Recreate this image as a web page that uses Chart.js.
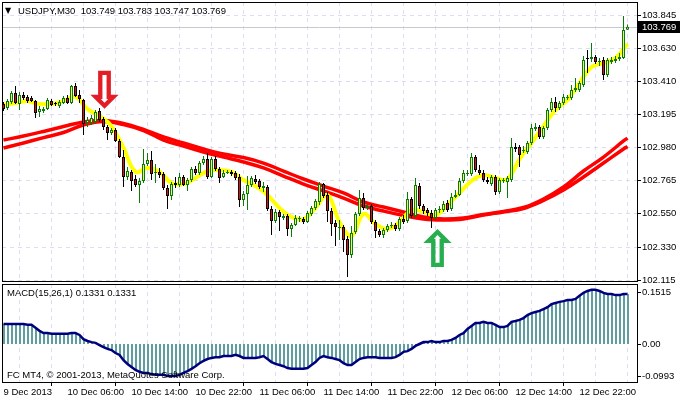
<!DOCTYPE html>
<html>
<head>
<meta charset="utf-8">
<script src="https://cdn.jsdelivr.net/npm/chart.js@4.4.1/dist/chart.umd.min.js"></script>
<style>
  html, body { margin: 0; padding: 0; background: #fff; }
  #wrap { position: relative; width: 680px; height: 400px; }
  #priceBox { position: absolute; left: 0; top: 0; width: 680px; height: 286px; }
  #macdBox { position: absolute; left: 0; top: 282px; width: 680px; height: 118px; }
</style>
</head>
<body>
<div id="wrap">
  <div id="priceBox"><canvas id="priceChart"></canvas></div>
  <div id="macdBox"><canvas id="macdChart"></canvas></div>
</div>
<script>
// USDJPY M30, 157 bars
const tickLabels = ['9 Dec 2013', '10 Dec 06:00', '10 Dec 14:00', '10 Dec 22:00', '11 Dec 06:00',
    '11 Dec 14:00', '11 Dec 22:00', '12 Dec 06:00', '12 Dec 14:00', '12 Dec 22:00'];
const priceTicks = [103.845, 103.630, 103.410, 103.195, 102.980, 102.765, 102.550, 102.330, 102.115];
const macdTicks = [0.1515, 0, -0.0993];

const open = [103.265,103.239,103.278,103.337,103.265,103.324,103.311,103.304,103.284,103.213,
    103.219,103.232,103.284,103.271,103.252,103.271,103.304,103.271,103.382,103.324,
    103.291,103.141,103.141,103.148,103.219,103.167,103.115,103.076,103.095,103.024,
    102.919,102.789,102.822,102.776,102.737,102.763,102.874,102.900,102.815,102.822,
    102.808,102.717,102.665,102.750,102.737,102.789,102.737,102.769,102.841,102.815,
    102.880,102.906,102.789,102.906,102.841,102.789,102.815,102.822,102.815,102.789,
    102.639,102.678,102.737,102.776,102.763,102.717,102.724,102.580,102.502,102.561,
    102.522,102.535,102.450,102.476,102.515,102.515,102.496,102.548,102.587,102.626,
    102.743,102.672,102.567,102.489,102.456,102.463,102.385,102.280,102.430,102.548,
    102.652,102.587,102.600,102.496,102.437,102.411,102.443,102.470,102.476,102.450,
    102.515,102.502,102.646,102.535,102.730,102.600,102.574,102.554,102.522,102.574,
    102.574,102.619,102.580,102.659,102.672,102.763,102.808,102.808,102.919,102.835,
    102.815,102.769,102.743,102.789,102.691,102.763,102.756,102.769,102.985,102.985,
    102.958,102.952,103.011,103.102,103.115,103.050,103.108,103.226,103.278,103.239,
    103.271,103.304,103.304,103.356,103.356,103.389,103.565,103.558,103.571,103.539,
    103.552,103.454,103.539,103.545,103.558,103.565,103.749];
const high = [103.278,103.298,103.350,103.382,103.343,103.343,103.324,103.317,103.291,103.252,
    103.245,103.304,103.298,103.278,103.291,103.317,103.324,103.389,103.402,103.356,
    103.298,103.180,103.193,103.226,103.239,103.180,103.128,103.108,103.108,103.037,
    102.965,102.854,102.835,102.802,102.782,102.972,102.945,102.958,102.874,102.848,
    102.822,102.737,102.756,102.789,102.815,102.802,102.782,102.854,102.861,102.893,
    102.926,102.945,102.919,102.926,102.854,102.835,102.835,102.835,102.828,102.808,
    102.698,102.795,102.795,102.802,102.776,102.756,102.737,102.600,102.580,102.574,
    102.548,102.548,102.489,102.541,102.535,102.528,102.567,102.600,102.646,102.756,
    102.750,102.691,102.587,102.509,102.509,102.476,102.404,102.470,102.561,102.704,
    102.685,102.613,102.613,102.509,102.450,102.456,102.483,102.496,102.489,102.528,
    102.541,102.691,102.659,102.782,102.750,102.613,102.587,102.574,102.587,102.600,
    102.632,102.639,102.685,102.704,102.782,102.835,102.835,102.945,102.932,102.867,
    102.835,102.789,102.802,102.802,102.782,102.782,102.795,103.043,103.011,102.998,
    102.991,103.024,103.135,103.141,103.128,103.121,103.239,103.304,103.311,103.284,
    103.330,103.324,103.389,103.434,103.415,103.578,103.617,103.663,103.584,103.565,
    103.571,103.565,103.571,103.578,103.597,103.839,103.783];
const low = [103.219,103.226,103.265,103.265,103.226,103.291,103.271,103.278,103.174,103.180,
    103.206,103.226,103.252,103.252,103.239,103.265,103.265,103.265,103.311,103.271,
    103.063,103.115,103.128,103.135,103.148,103.095,103.030,103.063,103.017,102.913,
    102.724,102.769,102.698,102.724,102.619,102.750,102.861,102.769,102.750,102.782,
    102.704,102.580,102.639,102.717,102.724,102.730,102.698,102.756,102.802,102.802,
    102.867,102.776,102.782,102.828,102.750,102.782,102.808,102.795,102.769,102.593,
    102.600,102.574,102.724,102.743,102.711,102.691,102.567,102.411,102.489,102.437,
    102.509,102.404,102.398,102.470,102.496,102.483,102.489,102.535,102.574,102.606,
    102.652,102.496,102.404,102.339,102.378,102.300,102.137,102.261,102.417,102.535,
    102.574,102.574,102.483,102.391,102.398,102.391,102.430,102.456,102.437,102.437,
    102.483,102.489,102.522,102.522,102.580,102.548,102.535,102.456,102.509,102.554,
    102.561,102.561,102.567,102.652,102.665,102.750,102.795,102.795,102.822,102.802,
    102.756,102.743,102.730,102.672,102.678,102.750,102.652,102.756,102.952,102.854,
    102.945,102.939,102.998,103.089,103.037,103.037,103.095,103.213,103.213,103.226,
    103.258,103.291,103.291,103.343,103.343,103.376,103.467,103.539,103.526,103.513,
    103.421,103.441,103.526,103.532,103.545,103.558,103.747];
const close = [103.232,103.284,103.337,103.271,103.324,103.304,103.284,103.284,103.206,103.232,
    103.232,103.291,103.258,103.265,103.278,103.304,103.271,103.382,103.317,103.298,
    103.135,103.161,103.174,103.213,103.161,103.115,103.076,103.095,103.024,102.919,
    102.789,102.828,102.763,102.737,102.763,102.874,102.900,102.808,102.822,102.802,
    102.717,102.665,102.743,102.737,102.789,102.737,102.769,102.841,102.815,102.880,
    102.906,102.789,102.906,102.841,102.782,102.815,102.822,102.808,102.782,102.639,
    102.678,102.737,102.782,102.756,102.724,102.730,102.580,102.502,102.561,102.528,
    102.535,102.450,102.476,102.522,102.522,102.496,102.554,102.587,102.632,102.743,
    102.665,102.567,102.483,102.463,102.463,102.378,102.280,102.424,102.548,102.652,
    102.587,102.600,102.496,102.437,102.411,102.443,102.470,102.476,102.450,102.515,
    102.496,102.646,102.535,102.737,102.600,102.567,102.554,102.522,102.574,102.580,
    102.613,102.574,102.659,102.672,102.763,102.815,102.815,102.919,102.835,102.815,
    102.769,102.756,102.789,102.691,102.769,102.769,102.782,102.985,102.972,102.932,
    102.965,103.011,103.108,103.115,103.050,103.108,103.226,103.278,103.239,103.271,
    103.311,103.311,103.356,103.369,103.402,103.552,103.558,103.571,103.539,103.545,
    103.454,103.552,103.552,103.558,103.571,103.747,103.769];

// slow MAs (two red lines), read every 5 bars
const slowIdx = [0,5,10,15,20,25,30,35,40,45,50,55,60,65,70,75,80,85,90,95,100,105,110,115,120,125,130,135,140,145,150,155,156];
const slowUpper = [103.030,103.056,103.086,103.118,103.148,103.157,103.138,103.099,103.050,103.011,
    102.972,102.939,102.916,102.880,102.828,102.776,102.730,102.685,102.626,102.593,
    102.561,102.528,102.515,102.522,102.544,102.564,102.590,102.646,102.724,102.828,
    102.919,103.024,103.043];
const slowLower = [102.978,103.011,103.046,103.079,103.128,103.151,103.131,103.092,103.030,102.991,
    102.952,102.919,102.887,102.848,102.795,102.743,102.698,102.652,102.600,102.567,
    102.538,102.515,102.509,102.515,102.541,102.561,102.584,102.636,102.704,102.789,
    102.880,102.972,102.988];

// fast MA (yellow), read every 3 bars
const fastIdx = [0,3,6,9,12,15,18,21,24,27,30,33,36,39,42,45,48,51,54,57,60,63,66,69,72,75,78,81,84,87,
    90,93,96,99,102,105,108,111,114,117,120,123,126,129,132,135,138,141,144,147,150,153,156];
const fast = [103.258,103.271,103.284,103.265,103.265,103.284,103.311,103.232,103.187,103.121,
    102.978,102.822,102.848,102.822,102.750,102.743,102.782,102.828,102.835,102.822,
    102.769,102.730,102.672,102.587,102.528,102.515,102.587,102.672,102.496,102.404,
    102.548,102.483,102.450,102.496,102.574,102.561,102.541,102.606,102.685,102.763,
    102.802,102.782,102.776,102.906,103.011,103.121,103.226,103.291,103.402,103.506,
    103.532,103.565,103.656];

const macd = [0.053,0.053,0.053,0.053,0.053,0.053,0.051,0.051,0.043,0.035,
    0.029,0.029,0.027,0.027,0.027,0.027,0.027,0.029,0.029,0.024,
    0.013,0.008,0.005,0.003,-0.003,-0.008,-0.013,-0.016,-0.024,-0.029,
    -0.043,-0.053,-0.061,-0.069,-0.074,-0.077,-0.077,-0.080,-0.082,-0.082,
    -0.082,-0.085,-0.085,-0.085,-0.082,-0.077,-0.072,-0.066,-0.059,-0.051,
    -0.045,-0.040,-0.037,-0.035,-0.035,-0.032,-0.032,-0.032,-0.029,-0.032,
    -0.037,-0.037,-0.037,-0.037,-0.035,-0.032,-0.040,-0.048,-0.053,-0.056,
    -0.059,-0.064,-0.066,-0.066,-0.066,-0.066,-0.064,-0.056,-0.048,-0.037,
    -0.032,-0.035,-0.037,-0.040,-0.043,-0.051,-0.056,-0.056,-0.048,-0.040,
    -0.037,-0.035,-0.035,-0.035,-0.037,-0.037,-0.037,-0.037,-0.035,-0.029,
    -0.021,-0.019,-0.013,-0.005,0.000,0.005,0.005,0.008,0.005,0.005,
    0.008,0.008,0.011,0.016,0.024,0.029,0.040,0.048,0.056,0.056,
    0.059,0.056,0.056,0.051,0.045,0.045,0.048,0.059,0.061,0.064,
    0.069,0.077,0.082,0.085,0.088,0.093,0.098,0.106,0.109,0.112,
    0.114,0.117,0.117,0.120,0.128,0.136,0.141,0.144,0.144,0.141,
    0.136,0.133,0.133,0.130,0.130,0.133,0.1331];
const signal = macd; // signal SMA(1) is the MACD itself

// arrow objects on the chart (bar index, price at arrow centre)
const arrows = [
    { bar: 25.25, price: 103.359, dir: 'down' },
    { bar: 108.5, price: 102.329, dir: 'up' }
];

Chart.defaults.font.family = '"Liberation Sans", Arial, sans-serif';
Chart.defaults.font.size = 9.5;
Chart.defaults.color = '#000';

const gridColor = '#dcdcf2';
const xMin = -0.375, xMax = 158.375;
const gridIdx = [];
for (let v = 0; v <= 152; v += 8) gridIdx.push(v);
const last = close.length - 1;
const isUp = i => close[i] >= open[i];
const txtFont = '9.5px "Liberation Sans", Arial, sans-serif';

function frame(chart) {
    const { ctx, chartArea: a } = chart;
    ctx.save();
    ctx.strokeStyle = '#000';
    ctx.lineWidth = 1;
    ctx.strokeRect(Math.floor(a.left) + 0.5, Math.floor(a.top) + 0.5,
        Math.round(a.right - a.left), Math.round(a.bottom - a.top));
    ctx.restore();
}

const pricePanel = {
    id: 'pricePanel',
    beforeDatasetsDraw(chart) {
        const { ctx, chartArea: a, scales: { y } } = chart;
        const yb = Math.round(y.getPixelForValue(close[last])) + 0.5;
        ctx.save();
        ctx.strokeStyle = '#c8c8d0';
        ctx.lineWidth = 1;
        ctx.beginPath();
        ctx.moveTo(a.left, yb);
        ctx.lineTo(a.right, yb);
        ctx.stroke();
        ctx.restore();
    },
    afterDraw(chart) {
        const { ctx, chartArea: a, scales: { x, y } } = chart;
        frame(chart);
        ctx.save();
        // arrows
        arrows.forEach(ar => {
            const glyph = ar.dir === 'down' ? '\u21E9' : '\u21E7';
            ctx.font = '100px "DejaVu Sans"';
            const m = ctx.measureText(glyph);
            const h = m.actualBoundingBoxAscent + m.actualBoundingBoxDescent;
            const size = 100 * 36 / h;
            ctx.font = size + 'px "DejaVu Sans"';
            const m2 = ctx.measureText(glyph);
            const cx = x.getPixelForValue(ar.bar);
            const cy = y.getPixelForValue(ar.price);
            const dx = cx - (m2.actualBoundingBoxRight - m2.actualBoundingBoxLeft) / 2;
            const dy = cy + (m2.actualBoundingBoxAscent - m2.actualBoundingBoxDescent) / 2;
            const col = ar.dir === 'down' ? '#e41e26' : '#27ae4f';
            ctx.textAlign = 'left';
            ctx.textBaseline = 'alphabetic';
            ctx.fillStyle = col;
            ctx.strokeStyle = col;
            ctx.lineWidth = 2;
            ctx.lineJoin = 'miter';
            ctx.fillText(glyph, dx, dy);
            ctx.strokeText(glyph, dx, dy);
        });
        // title
        ctx.fillStyle = '#000';
        ctx.textBaseline = 'middle';
        ctx.font = '8px "DejaVu Sans"';
        ctx.fillText('\u25BC', 5, 11);
        ctx.font = txtFont;
        ctx.fillText('USDJPY,M30  ' + [open[last], high[last], low[last], close[last]]
            .map(v => v.toFixed(3)).join(' '), 18, 11);
        // bid label
        const yb = Math.round(y.getPixelForValue(close[last]));
        ctx.fillStyle = '#000';
        ctx.fillRect(a.right + 1, yb - 6, 680 - a.right - 1, 12);
        ctx.fillStyle = '#fff';
        ctx.fillText(close[last].toFixed(3), a.right + 5, yb + 0.5);
        ctx.restore();
    }
};

const macdPanel = {
    id: 'macdPanel',
    afterDraw(chart) {
        const { ctx, chartArea: a, scales: { y } } = chart;
        frame(chart);
        ctx.save();
        ctx.font = txtFont;
        ctx.fillStyle = '#000';
        ctx.strokeStyle = '#000';
        ctx.textBaseline = 'middle';
        macdTicks.forEach(v => {
            let py = y.getPixelForValue(v);
            py = Math.round(Math.min(Math.max(py, a.top + 8), a.bottom - 6));
            ctx.beginPath();
            ctx.moveTo(a.right, py + 0.5);
            ctx.lineTo(a.right + 4, py + 0.5);
            ctx.stroke();
            ctx.fillText(v === 0 ? '0.00' : v.toFixed(4), a.right + 5, py + 0.5);
        });
        ctx.fillText('MACD(15,26,1) ' + macd[last].toFixed(4) + ' ' + signal[last].toFixed(4), 7, a.top + 9);
        ctx.fillText('FC MT4, \u00A9 2001-2013, MetaQuotes Software Corp.', 7, a.bottom - 7);
        ctx.restore();
    }
};

const xScale = (showLabels) => ({
    type: 'linear',
    min: xMin,
    max: xMax,
    offset: false,
    afterBuildTicks: s => { s.ticks = gridIdx.map(v => ({ value: v })); },
    ticks: showLabels ? {
        callback: v => v % 16 === 0 ? tickLabels[v / 16] : '',
        align: 'start', padding: 1, maxRotation: 0, minRotation: 0, autoSkip: false
    } : { display: false },
    grid: {
        color: gridColor,
        drawTicks: showLabels,
        tickLength: 4,
        tickBorderDash: [],
        tickColor: c => (c.tick && c.tick.value % 16 === 0) ? '#000' : 'rgba(0,0,0,0)'
    },
    border: { color: '#000', dash: [4, 4] },
    afterFit: s => { s.height = showLabels ? 18 : 5; s.paddingLeft = 0; s.paddingRight = 0; }
});

new Chart(document.getElementById('priceChart'), {
    type: 'bar',
    data: {
        datasets: [{
            type: 'line',
            data: slowIdx.map((x, k) => ({ x, y: slowUpper[k] })),
            borderColor: '#ff0000', borderWidth: 3.5, pointRadius: 0, tension: 0.4, order: 6
        }, {
            type: 'line',
            data: slowIdx.map((x, k) => ({ x, y: slowLower[k] })),
            borderColor: '#ff0000', borderWidth: 3.5, pointRadius: 0, tension: 0.4, order: 5
        }, {
            type: 'line',
            data: fastIdx.map((x, k) => ({ x, y: fast[k] })),
            borderColor: '#ffff00', borderWidth: 4, pointRadius: 0, tension: 0.4, order: 4
        }, {
            data: open.map((o, i) => ({ x: i, y: [low[i], high[i]] })),
            backgroundColor: c => isUp(c.dataIndex) ? '#0a7a0a' : '#000',
            barThickness: 1, grouped: false, inflateAmount: 0, borderWidth: 0, order: 2
        }, {
            data: open.map((o, i) => ({ x: i, y: [o, close[i]] })),
            backgroundColor: c => isUp(c.dataIndex) ? '#e8f27a' : '#e01010',
            borderColor: c => isUp(c.dataIndex) ? '#0a7a0a' : '#000',
            borderWidth: 1, borderSkipped: false,
            barThickness: 3, grouped: false, inflateAmount: 0, order: 1
        }]
    },
    options: {
        animation: false,
        responsive: true,
        maintainAspectRatio: false,
        events: [],
        layout: { padding: { left: 2, top: 2, right: 0, bottom: 0 } },
        plugins: { legend: { display: false }, tooltip: { enabled: false } },
        scales: {
            x: xScale(false),
            y: {
                position: 'right',
                min: 102.111,
                max: 103.930,
                afterBuildTicks: s => { s.ticks = priceTicks.map(v => ({ value: v })); },
                ticks: { callback: v => v.toFixed(3), padding: 1, autoSkip: false },
                grid: { color: gridColor, tickColor: '#000', tickLength: 4, tickBorderDash: [] },
                border: { color: '#000', dash: [4, 4] },
                afterFit: s => { s.width = 43; s.paddingTop = 0; s.paddingBottom = 0; }
            }
        }
    },
    plugins: [pricePanel]
});

new Chart(document.getElementById('macdChart'), {
    type: 'bar',
    data: {
        datasets: [{
            type: 'line',
            data: signal.map((y, x) => ({ x, y })),
            borderColor: '#00007f', borderWidth: 2.5, pointRadius: 0, tension: 0, order: 0
        }, {
            data: macd.map((y, x) => ({ x, y })),
            xAxisID: 'xh',
            backgroundColor: '#5f9ea0',
            barThickness: 2, grouped: false, inflateAmount: 0, order: 1
        }]
    },
    options: {
        animation: false,
        responsive: true,
        maintainAspectRatio: false,
        events: [],
        layout: { padding: { left: 2, top: 2, right: 0, bottom: 0 } },
        plugins: { legend: { display: false }, tooltip: { enabled: false } },
        scales: {
            x: xScale(true),
            // same bars, half a pixel over so the 2px columns sit on whole pixels
            xh: { type: 'linear', display: false, min: xMin - 0.125, max: xMax - 0.125, offset: false },
            y: {
                position: 'right',
                min: -0.10106,
                max: 0.15957,
                ticks: { display: false },
                grid: { display: false },
                border: { color: '#000' },
                afterFit: s => { s.width = 43; s.paddingTop = 0; s.paddingBottom = 0; }
            }
        }
    },
    plugins: [macdPanel]
});
</script>
</body>
</html>
